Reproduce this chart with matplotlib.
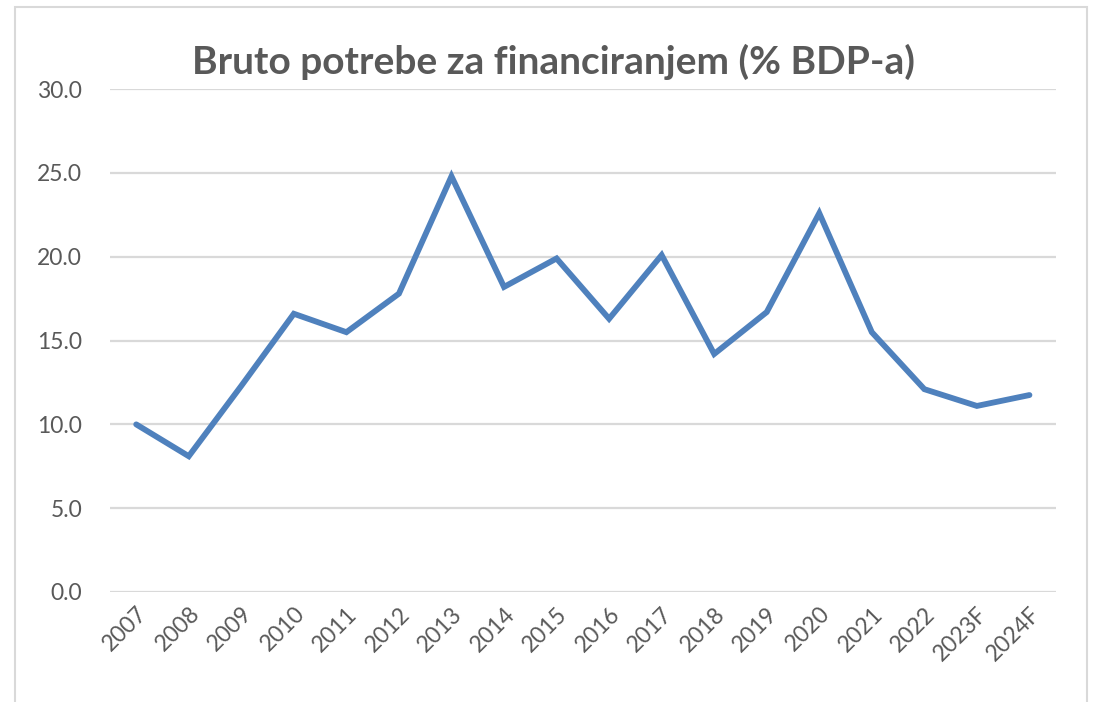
import matplotlib.pyplot as plt
from matplotlib.patches import Rectangle

years = ["2007", "2008", "2009", "2010", "2011", "2012", "2013", "2014", "2015",
         "2016", "2017", "2018", "2019", "2020", "2021", "2022", "2023F", "2024F"]
values = [10.0, 8.1, 12.3, 16.6, 15.5, 17.8, 24.8, 18.2, 19.9,
          16.3, 20.1, 14.2, 16.7, 22.6, 15.5, 12.1, 11.1, 11.75]

plt.rcParams['font.family'] = ['Lato', 'DejaVu Sans']

fig = plt.figure(figsize=(10.94, 7.02), dpi=100)
ax = fig.add_axes([0.1005, 0.1567, 0.8645, 0.7163])

x = range(len(years))
ax.plot(x, values, color='#4F81BD', linewidth=4.2, solid_joinstyle='miter',
        solid_capstyle='round')

ax.set_xlim(-0.5, len(years) - 0.5)
ax.set_ylim(0, 30)
ax.set_yticks([0, 5, 10, 15, 20, 25, 30])
ax.set_yticklabels([f"{v:.1f}" for v in ax.get_yticks()])
ax.set_xticks(list(x))
ax.set_xticklabels(years, rotation=45, ha='right', va='top', rotation_mode='anchor')

ax.yaxis.grid(True, color='#D9D9D9', linewidth=1.6)
ax.set_axisbelow(True)
for s in ax.spines.values():
    s.set_visible(False)
ax.tick_params(axis='both', length=0, labelsize=16.5, labelcolor='#595959')
ax.tick_params(axis='y', pad=20)
ax.tick_params(axis='x', pad=8)

fig.text(0.506, 0.912, "Bruto potrebe za financiranjem (% BDP-a)", ha='center',
         va='center', fontsize=28, fontweight='bold', color='#595959')

# outer chart border
fig.patches.append(Rectangle((15 / 1094, -0.05), 1072 / 1094, 1.04, transform=fig.transFigure,
                             fill=False, edgecolor='#D9D9D9', linewidth=1.5))

fig.savefig("out.png", dpi=100, facecolor='white')
